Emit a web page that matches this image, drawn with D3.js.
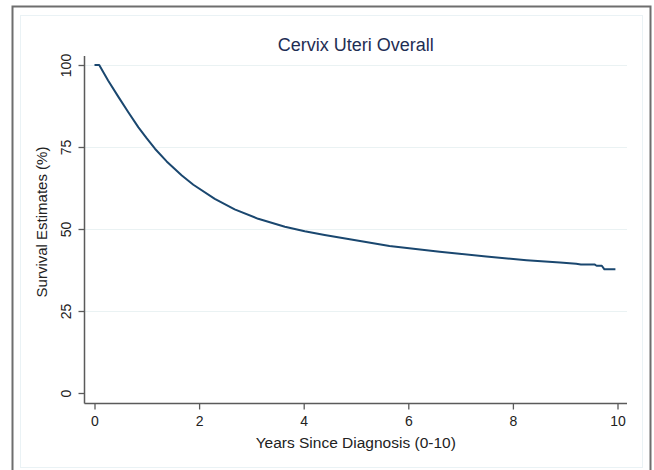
<!DOCTYPE html>
<html>
<head>
<meta charset="utf-8">
<script src="https://cdn.jsdelivr.net/npm/d3@7"></script>
<style>
  body { margin: 0; background: #fff; }
  text { font-family: "Liberation Sans", Arial, sans-serif; }
</style>
</head>
<body>
<div id="chart"></div>
<script>
// survival curve
var years = [0, 0.09, 0.26, 0.46, 0.65, 0.84, 1.0, 1.16, 1.38, 1.67, 1.89, 2.3, 2.68, 3.13, 3.64, 4.02, 4.4, 4.88, 5.64, 6.6, 7.49, 8.26, 8.9, 9.21, 9.3, 9.56, 9.6, 9.7, 9.75, 9.96]
var survival = [100, 100, 95.3, 90.2, 85.5, 81.0, 77.6, 74.4, 70.6, 66.3, 63.5, 59.2, 56.0, 53.1, 50.7, 49.3, 48.2, 46.9, 44.8, 43.1, 41.6, 40.5, 39.8, 39.4, 39.2, 39.2, 38.8, 38.8, 37.7, 37.7]
var xTicks = [0, 2, 4, 6, 8, 10]
var yTicks = [0, 25, 50, 75, 100]
var title = "Cervix Uteri Overall"
var xTitle = "Years Since Diagnosis (0-10)"
var yTitle = "Survival Estimates (%)"

var width = 654, height = 470
var svg = d3.select("#chart").append("svg")
  .attr("width", width)
  .attr("height", height)

// frame
svg.append("rect")
  .attr("x", 20.5).attr("y", 15.5)
  .attr("width", 622).attr("height", 452)
  .attr("fill", "none")
  .attr("stroke", "#eaf2f5")
svg.append("path")
  .attr("d", "M12.5,475V6.5H650.5V475")
  .attr("fill", "none")
  .attr("stroke", "#6e6e6e")
  .attr("stroke-width", 2)

var x = d3.scaleLinear().domain([0, 10]).range([94.5, 617.5])
var y = d3.scaleLinear().domain([0, 100]).range([393, 65])

var axisLeft = 84.5, axisBottom = 403.5, plotRight = 627, plotTop = 56

// gridlines
svg.append("g").selectAll("line")
  .data(yTicks.filter(function (d) { return d > 0 }))
  .enter().append("line")
    .attr("x1", axisLeft).attr("x2", plotRight)
    .attr("y1", function (d) { return Math.round(y(d)) + 0.5 })
    .attr("y2", function (d) { return Math.round(y(d)) + 0.5 })
    .attr("stroke", "#eaf2f3")
    .attr("stroke-width", 1.2)

// axes
var yAxis = svg.append("g")
  .attr("transform", "translate(" + axisLeft + ",0)")
  .call(d3.axisLeft(y).tickValues(yTicks).tickSize(6).tickSizeOuter(0))
yAxis.select(".domain").remove()
yAxis.append("line")
  .attr("x1", 0).attr("x2", 0)
  .attr("y1", plotTop).attr("y2", axisBottom)
  .attr("stroke", "#5a5a5a").attr("stroke-width", 1.5)
yAxis.selectAll(".tick line").attr("stroke", "#5a5a5a").attr("stroke-width", 1.3)
yAxis.selectAll(".tick text")
  .attr("transform", "rotate(-90)")
  .attr("x", 0).attr("y", -14)
  .attr("dy", 0)
  .attr("text-anchor", "middle")
  .attr("fill", "#222")
  .style("font-size", "14px")

var xAxis = svg.append("g")
  .attr("transform", "translate(0," + axisBottom + ")")
  .call(d3.axisBottom(x).tickValues(xTicks).tickSize(6).tickSizeOuter(0))
xAxis.select(".domain").remove()
xAxis.append("line")
  .attr("x1", axisLeft).attr("x2", plotRight)
  .attr("y1", 0).attr("y2", 0)
  .attr("stroke", "#5a5a5a").attr("stroke-width", 1.5)
xAxis.selectAll(".tick line").attr("stroke", "#5a5a5a").attr("stroke-width", 1.3)
xAxis.selectAll(".tick text")
  .attr("y", 22).attr("dy", 0)
  .attr("fill", "#222")
  .style("font-size", "14px")

// curve
var pts = years.map(function (t, i) { return [t, survival[i]] })
svg.append("path")
  .datum(pts)
  .attr("fill", "none")
  .attr("stroke", "#1a476f")
  .attr("stroke-width", 2)
  .attr("stroke-linejoin", "round")
  .attr("d", d3.line()
    .x(function (d) { return x(d[0]) })
    .y(function (d) { return y(d[1]) }))

// titles
svg.append("text")
  .attr("x", (axisLeft + plotRight) / 2)
  .attr("y", 51)
  .attr("text-anchor", "middle")
  .attr("fill", "#1e2d53")
  .style("font-size", "18px")
  .text(title)

svg.append("text")
  .attr("x", (axisLeft + plotRight) / 2)
  .attr("y", 448)
  .attr("text-anchor", "middle")
  .attr("fill", "#222")
  .style("font-size", "15.5px")
  .text(xTitle)

svg.append("text")
  .attr("transform", "translate(47,222) rotate(-90)")
  .attr("text-anchor", "middle")
  .attr("fill", "#222")
  .style("font-size", "15px")
  .text(yTitle)
</script>
</body>
</html>
